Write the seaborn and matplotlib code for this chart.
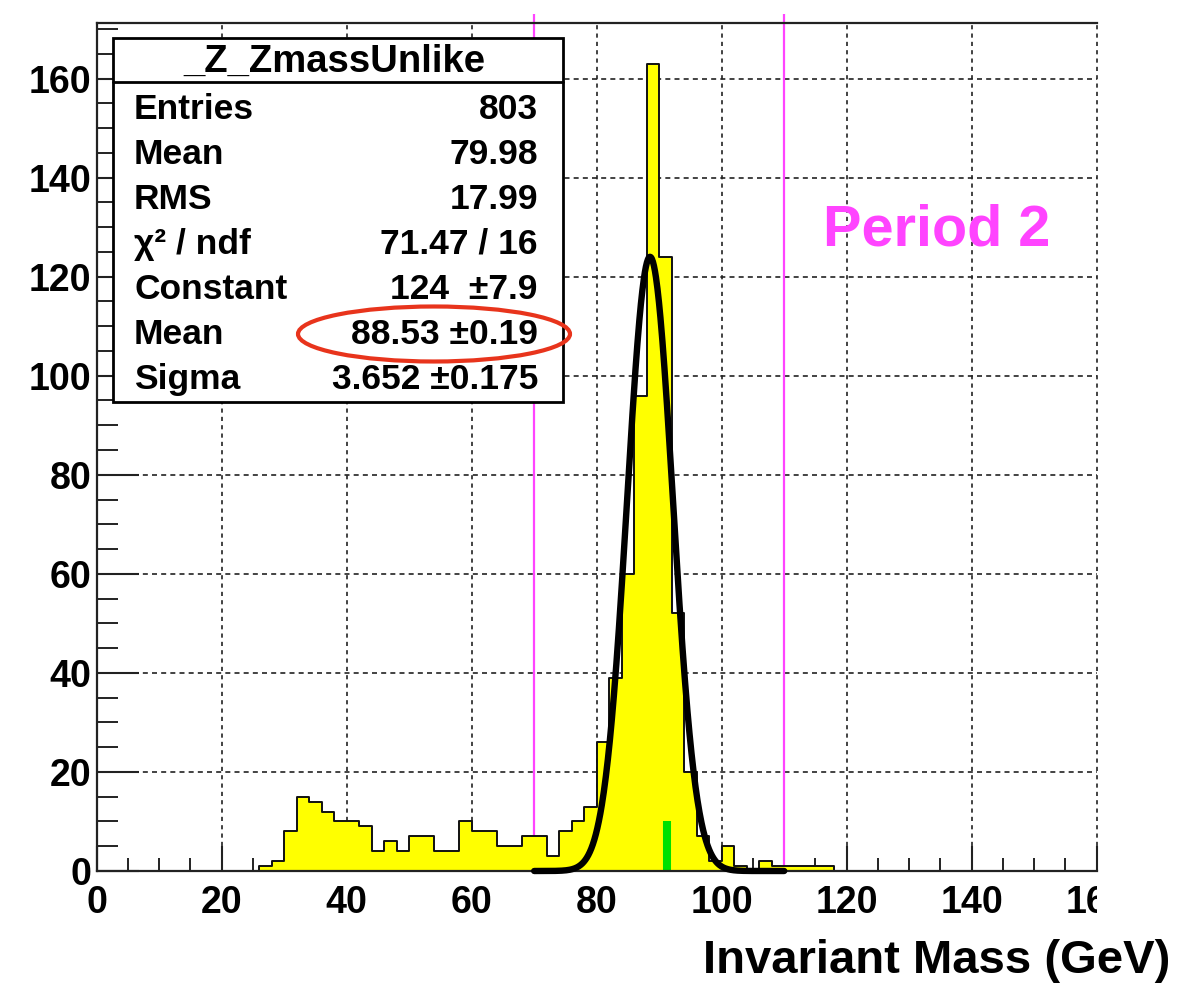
import numpy as np
import pandas as pd
import matplotlib
matplotlib.use("Agg")
import matplotlib.pyplot as plt
import seaborn as sns
from matplotlib.patches import Rectangle, Ellipse
from matplotlib.lines import Line2D
from matplotlib.transforms import Bbox, TransformedBbox, blended_transform_factory

# Histogram contents: lower edge of each 2 GeV bin and its entries
bin_low = [26, 28, 30, 32, 34, 36, 38, 40, 42, 44, 46, 48, 50, 52, 54, 56,
           58, 60, 62, 64, 66, 68, 70, 72, 74, 76, 78, 80, 82, 84, 86, 88,
           90, 92, 94, 96, 98, 100, 102, 104, 106, 108, 110, 112, 114, 116]
counts = [1, 2, 8, 15, 14, 12, 10, 10, 9, 4, 6, 4, 7, 7, 4, 4,
          10, 8, 8, 5, 5, 7, 7, 3, 8, 10, 13, 26, 39, 60, 96, 163,
          124, 52, 20, 7, 2, 5, 1, 0, 2, 1, 1, 1, 1, 1]
bin_width = 2

# Gaussian fit results and fit window
fit_constant = 124.0
fit_mean = 88.53
fit_sigma = 3.652
window = [70, 110]
z_pdg_mass = 91.19
z_marker_height = 10

# Statistics box contents
stats_title = "_Z_ZmassUnlike"
stat_labels = ["Entries", "Mean", "RMS", "\u03c7\u00b2 / ndf", "Constant", "Mean", "Sigma"]
stat_values = ["803", "79.98", "17.99", "71.47 / 16", "124  \u00b17.9",
               "88.53 \u00b10.19", "3.652 \u00b10.175"]

x_ticks = [0, 20, 40, 60, 80, 100, 120, 140, 160]
y_ticks = [0, 20, 40, 60, 80, 100, 120, 140, 160]

sns.set_style("white")
plt.rcParams["font.family"] = ["Liberation Sans", "DejaVu Sans"]
plt.rcParams["font.weight"] = "bold"
plt.rcParams["text.color"] = "black"
plt.rcParams["axes.labelcolor"] = "black"
plt.rcParams["xtick.color"] = "black"
plt.rcParams["ytick.color"] = "black"

W, H = 1198, 985
fig = plt.figure(figsize=(W / 100, H / 100), dpi=100)
fig.patch.set_facecolor("white")


def fx(px):
    return px / W


def fy(py):
    return 1 - py / H


ax = fig.add_axes([fx(96.7), fy(871), 1000 / W, (871 - 23.3) / H])
ax.set_facecolor("white")

df = pd.DataFrame({"mass": np.array(bin_low, dtype=float) + bin_width / 2,
                   "n": np.array(counts, dtype=float)})
edges = [float(e) for e in range(0, 160 + bin_width, bin_width)]
sns.histplot(data=df, x="mass", weights="n", bins=edges, element="step",
             fill=True, color="#ffff00", edgecolor="#111111", linewidth=1.4,
             alpha=1, ax=ax, zorder=1)

# dashed grid under the histogram
for xv in x_ticks:
    ax.axvline(xv, color="#222222", lw=1.2, ls=(0, (2.5, 2.5)), zorder=0.5,
               clip_on=False)
for yv in y_ticks:
    ax.axhline(yv, color="#222222", lw=1.2, ls=(0, (3, 2.5)), zorder=0.5,
               clip_on=False)

# fit window markers
ax.vlines(window, 0, 173, color="#ff44ff", lw=1.6, zorder=0.8, clip_on=False)

# Z mass marker
ax.vlines(z_pdg_mass, 0, z_marker_height, color="#00e000", lw=5.8, zorder=1.2)

# Gaussian fit curve
xs = np.linspace(window[0], window[1], 500)
ys = fit_constant * np.exp(-0.5 * ((xs - fit_mean) / fit_sigma) ** 2)
sns.lineplot(x=xs, y=ys, color="black", lw=4.6, ax=ax, zorder=3)
for ln in ax.get_lines():
    ln.set_clip_on(False)

ax.set_xlim(0, 160)
ax.set_ylim(0, 171.15)
ax.set_xticks(x_ticks)
ax.set_yticks(y_ticks)
ax.set_xticks(np.arange(0, 161, 5), minor=True)
ax.set_yticks(np.arange(0, 171, 5), minor=True)
ax.tick_params(axis="both", which="both", bottom=True, left=True,
               top=False, right=False)
ax.tick_params(axis="x", which="major", direction="in", length=18, width=1.5,
               labelsize=27, pad=10, color="#222222", labelcolor="black")
ax.tick_params(axis="x", which="minor", direction="in", length=9.5, width=1.4,
               color="#222222")
ax.tick_params(axis="y", which="major", direction="in", length=30, width=1.5,
               labelsize=27, pad=4, color="#222222", labelcolor="black")
ax.tick_params(axis="y", which="minor", direction="in", length=15, width=1.4,
               color="#222222")
for lab in ax.get_xticklabels() + ax.get_yticklabels():
    lab.set_fontweight("bold")

for side in ["left", "bottom", "top"]:
    ax.spines[side].set_color("#222222")
    ax.spines[side].set_linewidth(1.6)
ax.spines["right"].set_visible(False)

ax.set_ylabel("")
ax.set_xlabel("Invariant Mass (GeV)", fontsize=34, fontweight="bold",
              ha="right", va="baseline")
ax.xaxis.set_label_coords((1170 - 96.7) / 1000, (871 - 973) / (871 - 23.3))

# the last x tick label is cut at the frame edge
clip_tr = blended_transform_factory(ax.transAxes, fig.transFigure)
clip_bbox = TransformedBbox(Bbox([[-1.0, 0.0], [1.0, 1.0]]), clip_tr)
last_tick = ax.xaxis.get_major_ticks()[-1]
last_tick.label1.set_clip_box(clip_bbox)
last_tick.label1.set_clip_on(True)

# statistics box
box_l, box_r, box_t, box_b = 113, 562.6, 37.5, 402
fig.add_artist(Rectangle((fx(box_l), fy(box_b)), (box_r - box_l) / W,
                         (box_b - box_t) / H, transform=fig.transFigure,
                         facecolor="white", edgecolor="black", lw=2.0,
                         zorder=5))
fig.add_artist(Line2D([fx(box_l), fx(box_r)], [fy(81.7), fy(81.7)],
                      transform=fig.transFigure, color="black", lw=2.0,
                      zorder=6))
fig.text(fx((box_l + box_r) / 2 - 3), fy(71.7), stats_title, fontsize=27.5,
         fontweight="bold", ha="center", va="baseline", zorder=7)
for i, (lab, val) in enumerate(zip(stat_labels, stat_values)):
    yb = fy(119 + 45 * i)
    fig.text(fx(134), yb, lab, fontsize=25.5, fontweight="bold",
             ha="left", va="baseline", zorder=7)
    fig.text(fx(538), yb, val, fontsize=25.5, fontweight="bold",
             ha="right", va="baseline", zorder=7)

# highlight around the fitted mean
fig.add_artist(Ellipse((fx(434), fy(334)), 272 / W, 55 / H,
                       transform=fig.transFigure, facecolor="none",
                       edgecolor="#e8341c", lw=3.0, zorder=8))

fig.text(fx(823), fy(245), "Period 2", fontsize=41.5, fontweight="bold",
         color="#ff44ff", ha="left", va="baseline")

fig.savefig("out.png", dpi=100, facecolor="white")
